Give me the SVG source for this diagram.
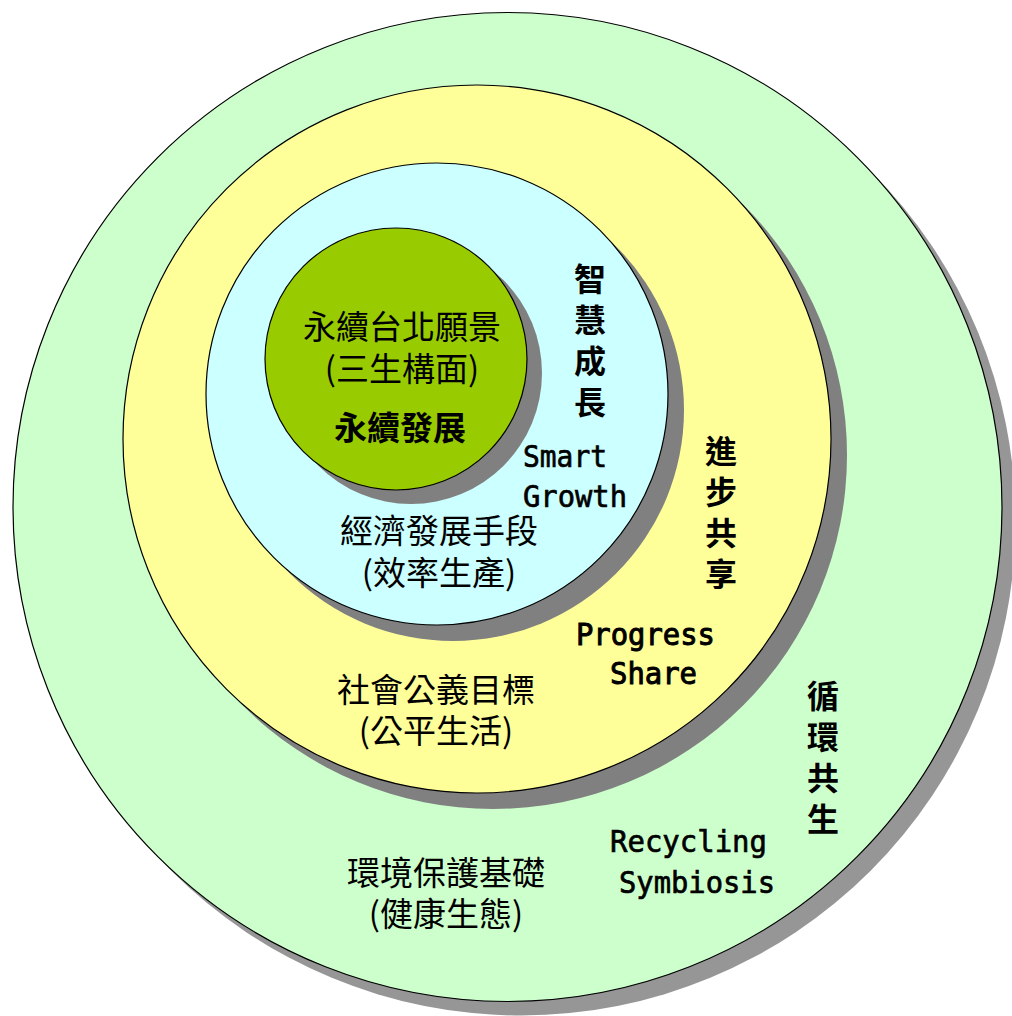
<svg xmlns="http://www.w3.org/2000/svg" width="1012" height="1016" viewBox="0 0 1012 1016">
<style>
.ring{stroke:#000;stroke-width:1.2}
.sh{fill:#808080}
.zh{font-family:"Noto Sans CJK TC","Noto Sans CJK SC",sans-serif;font-size:33px;fill:#000;text-anchor:middle}
.b{font-weight:bold}
.v{font-family:"Noto Sans CJK TC","Noto Sans CJK SC",sans-serif;font-size:32px;font-weight:bold;fill:#000;writing-mode:vertical-rl;letter-spacing:9px}
.en{font-family:"DejaVu Sans Mono","Liberation Mono",monospace;font-size:31px;fill:#000;stroke:#000;stroke-width:0.7}
.en2{stroke-width:1}
</style>
<rect width="1012" height="1016" fill="#fff"/>
<g id="outer">
<circle cx="521" cy="521" r="494.5" fill="#969696"/>
<circle class="ring" cx="507.5" cy="507" r="494.5" fill="#CCFFCC"/>
<text class="zh" x="446" y="885">環境保護基礎<tspan x="446" y="926">(健康生態)</tspan></text>
<text class="v" x="823" y="680">循環共生</text>
<text class="en" x="610" y="852" textLength="157" lengthAdjust="spacingAndGlyphs">Recycling</text>
<text class="en" x="619" y="893" textLength="156" lengthAdjust="spacingAndGlyphs">Symbiosis</text>
</g>
<g id="yellow">
<circle class="sh" cx="493" cy="455" r="354"/>
<circle class="ring" cx="477" cy="439" r="354" fill="#FFFF99"/>
<text class="zh" x="436" y="702">社會公義目標<tspan x="436" y="743">(公平生活)</tspan></text>
<text class="v" x="721" y="435">進步共享</text>
<text class="en en2" x="576" y="645" textLength="139" lengthAdjust="spacingAndGlyphs">Progress</text>
<text class="en en2" x="610" y="684" textLength="87" lengthAdjust="spacingAndGlyphs">Share</text>
</g>
<g id="cyan">
<circle class="sh" cx="453" cy="410" r="231"/>
<circle class="ring" cx="437" cy="394" r="231" fill="#CCFFFF"/>
<text class="zh" x="439" y="543">經濟發展手段<tspan x="439" y="585">(效率生產)</tspan></text>
<text class="v" x="590" y="263">智慧成長</text>
<text class="en" x="523" y="467" textLength="84" lengthAdjust="spacingAndGlyphs">Smart</text>
<text class="en" x="523" y="507" textLength="104" lengthAdjust="spacingAndGlyphs">Growth</text>
</g>
<g id="core">
<circle class="sh" cx="411" cy="373" r="131"/>
<circle class="ring" cx="396" cy="359" r="131" fill="#99CC00"/>
<text class="zh" x="402" y="339">永續台北願景<tspan x="402" y="381">(三生構面)</tspan></text>
<text class="zh b" x="400" y="440">永續發展</text>
</g>
<g id="connectors"/>
</svg>
